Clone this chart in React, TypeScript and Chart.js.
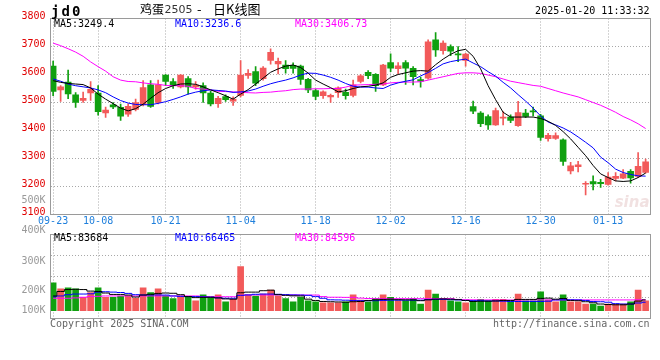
import React, { useEffect, useRef } from 'react';
import { Chart, registerables } from 'chart.js';
Chart.register(...registerables);

// ---------- data ----------
const dates = [
  '09-23','09-24','09-25','09-26','09-27','09-30',
  '10-08','10-09','10-10','10-11','10-14','10-15','10-16','10-17','10-18','10-21','10-22','10-23','10-24','10-25','10-28','10-29','10-30','10-31',
  '11-01','11-04','11-05','11-06','11-07','11-08','11-11','11-12','11-13','11-14','11-15','11-18','11-19','11-20','11-21','11-22','11-25','11-26','11-27','11-28','11-29',
  '12-02','12-03','12-04','12-05','12-06','12-09','12-10','12-11','12-12','12-13','12-16','12-17','12-18','12-19','12-20','12-23','12-24','12-25','12-26','12-27','12-30','12-31',
  '01-02','01-03','01-06','01-07','01-08','01-09','01-10','01-13','01-14','01-15','01-16','01-17','01-20',
];
const tickDates = ['09-23','10-08','10-21','11-04','11-18','12-02','12-16','12-30','01-13'];

const open = [
  3630,3545,3573,3527,3507,3534,3534,3463,3492,3483,
  3458,3475,3492,3563,3500,3598,3575,3556,3585,3556,
  3560,3534,3496,3521,3505,3525,3597,3610,3585,3650,
  3638,3634,3633,3630,3583,3543,3524,3520,3535,3536,
  3525,3575,3608,3601,3563,3643,3621,3643,3622,3582,
  3587,3724,3685,3700,3674,3650,3485,3462,3450,3420,
  3444,3448,3417,3462,3470,3452,3371,3372,3367,3256,
  3271,3208,3218,3215,3207,3229,3230,3254,3236,3250,
];
const high = [
  3648,3560,3616,3535,3537,3575,3560,3484,3500,3494,
  3495,3512,3578,3578,3580,3600,3585,3600,3593,3575,
  3570,3540,3522,3527,3520,3650,3618,3628,3628,3692,
  3659,3650,3642,3634,3586,3548,3542,3530,3556,3548,
  3580,3600,3614,3603,3636,3674,3643,3650,3628,3591,
  3724,3750,3720,3706,3700,3676,3505,3468,3456,3480,
  3468,3456,3504,3476,3484,3458,3390,3392,3370,3286,
  3290,3218,3238,3226,3250,3250,3260,3260,3321,3298,
];
const low = [
  3524,3504,3514,3482,3500,3507,3455,3447,3478,3436,
  3450,3470,3488,3482,3495,3560,3550,3552,3530,3548,
  3500,3488,3482,3504,3490,3520,3586,3560,3580,3637,
  3602,3605,3605,3565,3535,3510,3515,3500,3518,3512,
  3520,3570,3585,3540,3560,3610,3602,3565,3563,3555,
  3583,3665,3673,3667,3646,3630,3460,3414,3404,3418,
  3420,3428,3415,3446,3452,3365,3362,3368,3275,3245,
  3252,3170,3188,3197,3205,3220,3228,3212,3232,3248,
];
const close = [
  3540,3556,3531,3500,3515,3547,3467,3473,3484,3451,
  3486,3500,3553,3486,3563,3575,3560,3598,3556,3562,
  3534,3495,3515,3510,3512,3598,3604,3569,3623,3679,
  3647,3621,3622,3582,3545,3522,3538,3526,3552,3524,
  3563,3595,3596,3560,3634,3623,3631,3623,3592,3576,
  3717,3688,3712,3683,3670,3673,3469,3424,3420,3471,
  3446,3436,3464,3450,3466,3375,3383,3382,3290,3274,
  3277,3211,3209,3210,3234,3236,3245,3231,3272,3288,
];
const ma5 = [
  3578,3572,3568,3566,3564,3552,3530,3512,3496,3480,
  3470,3478,3494,3515,3535,3550,3560,3566,3567,3565,
  3556,3545,3535,3524,3512,3530,3546,3566,3587,3608,
  3620,3630,3634,3625,3605,3580,3566,3553,3538,3542,
  3550,3556,3558,3562,3570,3590,3600,3606,3612,3614,
  3612,3635,3655,3672,3685,3690,3665,3620,3560,3510,
  3465,3448,3448,3448,3448,3443,3433,3418,3396,3370,
  3340,3310,3275,3245,3232,3220,3218,3220,3232,3248,
];
const ma10 = [
  3584,3576,3566,3560,3556,3552,3545,3535,3520,3507,
  3498,3493,3492,3492,3497,3503,3511,3520,3530,3537,
  3542,3545,3543,3541,3536,3538,3541,3548,3558,3567,
  3574,3580,3588,3598,3605,3604,3598,3590,3580,3568,
  3558,3555,3555,3552,3550,3562,3570,3576,3581,3595,
  3607,3622,3638,3646,3651,3655,3641,3628,3610,3594,
  3572,3552,3528,3505,3480,3452,3430,3420,3409,3395,
  3377,3358,3338,3305,3285,3262,3250,3243,3238,3237,
];
const ma30 = [
  3712,3703,3692,3680,3665,3645,3628,3612,3592,3580,
  3575,3574,3570,3567,3565,3561,3560,3560,3558,3550,
  3548,3545,3540,3539,3538,3536,3535,3534,3536,3537,
  3540,3542,3546,3548,3548,3549,3549,3550,3550,3555,
  3562,3563,3564,3565,3566,3570,3572,3573,3573,3574,
  3580,3586,3592,3598,3604,3606,3606,3604,3598,3592,
  3584,3576,3571,3566,3561,3558,3550,3542,3534,3527,
  3520,3510,3500,3490,3478,3465,3450,3438,3424,3407,
];
// volume, thousands of lots
const volume = [
  218,170,179,170,105,141,179,105,105,115,
  115,97,179,141,171,115,94,115,109,77,
  123,105,123,70,88,344,123,115,130,161,
  115,94,70,105,77,70,62,62,62,70,
  123,83,70,94,123,105,77,77,94,52,
  161,130,94,77,70,62,77,88,77,88,
  88,70,130,77,77,148,83,70,123,70,
  70,52,52,36,52,52,52,70,161,77,
];
const volMa5 = [
  115,150,165,167,165,153,150,138,127,127,
  122,107,122,128,135,138,136,125,110,102,
  104,105,100,92,90,140,145,145,156,160,
  125,120,116,115,90,80,72,70,68,66,
  70,72,80,84,88,90,86,85,84,78,
  85,90,92,90,86,80,72,74,74,76,
  80,80,88,88,88,96,98,90,95,80,
  78,70,62,52,48,46,46,52,75,84,
];
const volMa10 = [
  109,115,125,130,130,132,145,148,145,142,
  135,125,123,123,123,122,115,112,110,110,
  108,106,100,97,97,120,123,128,130,130,
  128,125,123,122,120,110,97,85,84,82,
  80,78,78,78,80,82,82,82,82,82,
  86,88,88,86,84,80,78,78,76,76,
  74,72,72,72,72,72,74,84,85,85,
  84,80,72,70,66,55,52,52,60,66,
];
const volMa30 = [
  97,97,97,100,105,110,112,115,115,115,
  115,115,115,115,115,115,115,115,115,115,
  110,109,109,109,109,120,123,123,123,123,
  123,123,123,123,122,122,110,105,105,104,
  104,98,95,94,94,94,94,94,94,94,
  94,94,94,94,88,86,85,84,84,84,
  83,83,83,84,84,84,84,84,84,84,
  84,84,84,84,84,84,84,84,85,85,
];
const volAxisLabels = ['500K', '400K', '300K', '200K', '100K'];
const priceLegend = ['MA5:3249.4', 'MA10:3236.6', 'MA30:3406.73'];
const volLegend = ['MA5:83684', 'MA10:66465', 'MA30:84596'];

// ---------- styles ----------
const RED = '#f25a5a';
const GREEN = '#10a010';
const GRID = '#a8a8a8';
const FRAME = '#9a9a9a';
const MONO = "'DejaVu Sans Mono', monospace";
const CJK = "'Noto Sans CJK SC', sans-serif";
const LEGEND_COLORS = ['#000000', '#0000ff', '#ff00ff'];
const LEGEND_X = [54, 175, 295];

const idx = dates.map((_, i) => i);
const colors = idx.map((i) => (close[i] >= open[i] ? RED : GREEN));
const tickIdx = tickDates.map((d) => dates.indexOf(d));
const X_MIN = -0.35;
const X_MAX = dates.length - 0.35;
const VOL_MIN = -61;
const VOL_MAX = 595;

const lineDs = (label: string, arr: number[], color: string, stepped: any = false) => ({
  type: 'line' as const,
  label,
  data: arr.map((v, i) => ({ x: i, y: v })),
  borderColor: color,
  borderWidth: 1,
  pointRadius: 0,
  tension: 0,
  stepped,
  order: 0,
});

const xAxis = (showLabels: boolean, height: number) => ({
  type: 'linear' as const,
  min: X_MIN,
  max: X_MAX,
  offset: false,
  afterBuildTicks: (s: any) => {
    s.ticks = tickIdx.map((v) => ({ value: v }));
  },
  afterFit: (s: any) => {
    s.height = height;
  },
  ticks: {
    display: showLabels,
    autoSkip: false,
    maxRotation: 0,
    padding: 1,
    color: '#1e7fdc',
    font: { family: MONO, size: 10 },
    callback: (v: any) => dates[v as number],
  },
  grid: { color: GRID, drawTicks: false, lineWidth: 1, offset: false },
  border: { display: false, dash: [1, 2] },
});

const frame = (chart: any) => {
  const { ctx, chartArea: a } = chart;
  ctx.save();
  ctx.strokeStyle = FRAME;
  ctx.lineWidth = 1;
  ctx.strokeRect(a.left, a.top, a.right - a.left, a.bottom - a.top);
  ctx.restore();
};

const drawLegend = (ctx: any, texts: string[], y: number) => {
  ctx.font = `10px ${MONO}`;
  ctx.textAlign = 'left';
  ctx.textBaseline = 'middle';
  texts.forEach((t, k) => {
    ctx.fillStyle = LEGEND_COLORS[k];
    ctx.fillText(t, LEGEND_X[k], y);
  });
};

const priceDecor = {
  id: 'priceDecor',
  beforeDatasetsDraw(chart: any) {
    const { ctx, chartArea: a } = chart;
    ctx.save();
    ctx.fillStyle = 'rgba(215,170,170,0.35)';
    ctx.font = `italic bold 15px 'DejaVu Sans', sans-serif`;
    ctx.textAlign = 'right';
    ctx.textBaseline = 'alphabetic';
    ctx.fillText('sina', a.right - 1, a.bottom - 8);
    ctx.restore();
  },
  afterDraw(chart: any) {
    const { ctx, chartArea: a } = chart;
    frame(chart);
    ctx.save();
    ctx.fillStyle = '#000';
    ctx.font = `bold 14px ${MONO}`;
    ctx.textBaseline = 'alphabetic';
    ['j', 'd', '0'].forEach((ch, k) => ctx.fillText(ch, 51 + k * 10.5, 16));
    ctx.textBaseline = 'middle';
    ctx.font = `12px ${CJK}`;
    ctx.fillText('鸡蛋', 140, 9.5);
    ctx.fillStyle = '#333';
    ctx.font = `11px 'DejaVu Sans', sans-serif`;
    ctx.fillText('2505', 164.5, 10);
    ctx.fillStyle = '#000';
    ctx.font = `13px ${CJK}`;
    ctx.fillText('-', 197, 9.5);
    ctx.fillText('日K线图', 213, 9.5);
    ctx.font = `10px ${MONO}`;
    ctx.textAlign = 'right';
    ctx.fillText('2025-01-20 11:33:32', 649.5, 11.5);
    drawLegend(ctx, priceLegend, a.top + 5.5);
    ctx.restore();
  },
};

const volDecor = {
  id: 'volDecor',
  afterDraw(chart: any) {
    const { ctx, chartArea: a } = chart;
    frame(chart);
    ctx.save();
    drawLegend(ctx, volLegend, a.top + 4);
    ctx.fillStyle = '#999';
    ctx.font = `10px ${MONO}`;
    ctx.textAlign = 'right';
    ctx.textBaseline = 'middle';
    const offs = [-34.5, -4, 26.5, 56, 75.5];
    volAxisLabels.forEach((t, k) => ctx.fillText(t, 45.5, a.top + offs[k]));
    ctx.fillStyle = '#666';
    ctx.textAlign = 'left';
    ctx.fillText('Copyright 2025 SINA.COM', 50, a.bottom + 5.5);
    ctx.textAlign = 'right';
    ctx.fillText('http://finance.sina.com.cn', 649.5, a.bottom + 6);
    ctx.restore();
  },
};

export default function App() {
  const priceRef = useRef<HTMLCanvasElement>(null);
  const volRef = useRef<HTMLCanvasElement>(null);

  useEffect(() => {
    const priceChart = new Chart(priceRef.current as HTMLCanvasElement, {
      type: 'bar',
      data: {
        datasets: [
          lineDs('MA5', ma5, '#000000'),
          lineDs('MA10', ma10, '#0000ff'),
          lineDs('MA30', ma30, '#ff00ff'),
          {
            type: 'bar',
            label: 'body',
            data: idx.map((i) => ({ x: i, y: [Math.min(open[i], close[i]), Math.max(open[i], close[i])] })),
            backgroundColor: colors,
            barThickness: 6,
            minBarLength: 1,
            grouped: false,
            order: 1,
          } as any,
          {
            type: 'bar',
            label: 'wick',
            data: idx.map((i) => ({ x: i, y: [low[i], high[i]] })),
            backgroundColor: colors,
            barThickness: 1,
            grouped: false,
            order: 2,
          } as any,
        ],
      },
      options: {
        responsive: false,
        animation: false,
        devicePixelRatio: 1,
        events: [],
        layout: { padding: { top: 18.5, right: 9.5, left: 0, bottom: 0 } },
        plugins: { legend: { display: false }, tooltip: { enabled: false } },
        scales: {
          x: xAxis(true, 360 - 214.5) as any,
          y: {
            min: 3100,
            max: 3800,
            afterFit: (s: any) => {
              s.width = 50.5;
            },
            ticks: {
              stepSize: 100,
              color: '#e00000',
              font: { family: MONO, size: 10 },
              padding: 5,
              labelOffset: -2,
              callback: (v: any) => String(v),
            },
            grid: { color: GRID, drawTicks: false },
            border: { display: false, dash: [1, 2] },
          } as any,
        },
      },
      plugins: [priceDecor],
    });

    const volChart = new Chart(volRef.current as HTMLCanvasElement, {
      type: 'bar',
      data: {
        datasets: [
          lineDs('MA5', volMa5, '#000000', 'middle'),
          lineDs('MA10', volMa10, '#0000ff', 'middle'),
          lineDs('MA30', volMa30, '#ff00ff', 'middle'),
          {
            type: 'bar',
            label: 'volume',
            data: idx.map((i) => ({ x: i, y: volume[i] })),
            backgroundColor: colors,
            barThickness: 6,
            grouped: false,
            order: 1,
          } as any,
        ],
      },
      options: {
        responsive: false,
        animation: false,
        devicePixelRatio: 1,
        events: [],
        layout: { padding: { top: 234.5, right: 9.5, left: 0, bottom: 0 } },
        plugins: { legend: { display: false }, tooltip: { enabled: false } },
        scales: {
          x: xAxis(false, 360 - 318.5) as any,
          y: {
            min: VOL_MIN,
            max: VOL_MAX,
            afterBuildTicks: (s: any) => {
              s.ticks = [0, 1, 2, 3, 4].map((j) => ({ value: VOL_MIN + ((VOL_MAX - VOL_MIN) * j) / 4 }));
            },
            afterFit: (s: any) => {
              s.width = 50.5;
            },
            ticks: { display: false },
            grid: { color: GRID, drawTicks: false },
            border: { display: false, dash: [1, 2] },
          } as any,
        },
      },
      plugins: [volDecor],
    });

    return () => {
      priceChart.destroy();
      volChart.destroy();
    };
  }, []);

  const canvasStyle: React.CSSProperties = { position: 'absolute', left: 0, top: 0, width: 660, height: 360 };
  return (
    <div style={{ position: 'absolute', left: 0, top: 0, width: 660, height: 360, background: '#fff' }}>
      <canvas ref={priceRef} width={660} height={360} style={canvasStyle} />
      <canvas ref={volRef} width={660} height={360} style={canvasStyle} />
    </div>
  );
}
